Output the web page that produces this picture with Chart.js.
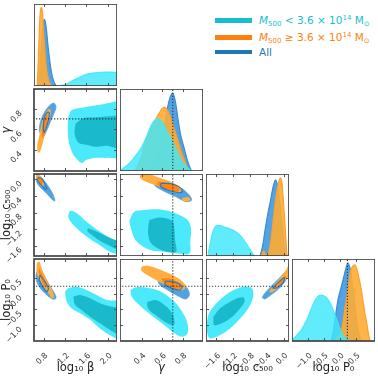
<!DOCTYPE html>
<html>
<head>
<meta charset="utf-8">
<script src="https://cdn.jsdelivr.net/npm/chart.js@4.4.1/dist/chart.umd.min.js"></script>
<style>
  body { margin: 0; background: #fff; }
  #wrap { position: relative; width: 378px; height: 376px; overflow: hidden; background: #fff; }
  #wrap canvas { position: absolute; }
  .lg { position: absolute; left: 215px; height: 12px; display: flex; align-items: center;
        font: 10.5px 'DejaVu Sans', sans-serif; white-space: nowrap; }
  .lg .sw { display: inline-block; width: 37px; margin-right: 7px; }
  .lg sub { font-size: 7px; vertical-align: -2px; line-height: 0; }
  .lg sup { font-size: 7px; vertical-align: 4px; line-height: 0; }
</style>
</head>
<body>
<div id="wrap"></div>
<script>
// parameters, axis ranges and ticks
const params = ['beta', 'gamma', 'c500', 'p0'];
const titles = ['log\u2081\u2080 \u03b2', '\u03b3', 'log\u2081\u2080 c\u2085\u2080\u2080', 'log\u2081\u2080 P\u2080'];
const ranges = { beta: [0.62, 2.17], gamma: [0.19, 1.0], c500: [-1.85, 0.13], p0: [-1.5, 1.1] };
const betaTicks = [0.8, 1.2, 1.6, 2.0];
const gammaTicks = [0.4, 0.6, 0.8];
const c500Ticks = [-1.6, -1.2, -0.8, -0.4, 0.0];
const p0Ticks = [-1.0, -0.5, 0.0, 0.5];
const tickSets = { beta: betaTicks, gamma: gammaTicks, c500: c500Ticks, p0: p0Ticks };
const truths = { gamma: 0.705, p0: 0.236 };

const seriesNames = [
  '<i>M</i><sub>500</sub> &lt; 3.6 \u00d7 10<sup>14</sup> M<sub>\u2299</sub>',
  '<i>M</i><sub>500</sub> \u2265 3.6 \u00d7 10<sup>14</sup> M<sub>\u2299</sub>',
  'All'
];
const seriesColors = ['#17becf', '#ff7f0e', '#1f77b4'];

// 1D marginals (low mass, high mass, all)
const betaLow = [[1.07,0],[1.15,0.01],[1.25,0.03],[1.35,0.07],[1.45,0.10],[1.55,0.13],[1.65,0.15],[1.75,0.16],[1.85,0.165],[1.95,0.17],[2.05,0.17],[2.2,0.165]];
const betaHigh = [[0.68,0],[0.70,0.3],[0.72,0.7],[0.74,0.92],[0.76,0.96],[0.78,0.88],[0.80,0.65],[0.83,0.38],[0.86,0.18],[0.90,0.06],[0.95,0]];
const betaAll = [[0.71,0],[0.74,0.3],[0.77,0.6],[0.80,0.8],[0.82,0.81],[0.85,0.7],[0.88,0.5],[0.92,0.28],[0.96,0.12],[1.0,0.04],[1.04,0]];

const gammaLow = [[0.19,0.01],[0.22,0.03],[0.26,0.07],[0.30,0.12],[0.35,0.2],[0.40,0.29],[0.45,0.42],[0.49,0.55],[0.53,0.62],[0.56,0.64],[0.60,0.6],[0.64,0.51],[0.68,0.41],[0.72,0.31],[0.76,0.2],[0.80,0.11],[0.84,0.05],[0.88,0.01],[0.90,0]];
const gammaHigh = [[0.33,0],[0.37,0.08],[0.40,0.18],[0.43,0.33],[0.48,0.47],[0.525,0.6],[0.57,0.7],[0.60,0.76],[0.625,0.78],[0.65,0.75],[0.67,0.70],[0.71,0.55],[0.75,0.39],[0.79,0.23],[0.82,0.13],[0.85,0.04],[0.87,0]];
const gammaAll = [[0.46,0],[0.50,0.05],[0.53,0.13],[0.56,0.22],[0.59,0.35],[0.62,0.52],[0.655,0.78],[0.68,0.9],[0.705,0.95],[0.73,0.85],[0.755,0.64],[0.78,0.45],[0.82,0.26],[0.85,0.12],[0.88,0.02],[0.89,0]];

const c500Low = [[-1.80,0.03],[-1.75,0.15],[-1.70,0.27],[-1.65,0.34],[-1.58,0.375],[-1.50,0.37],[-1.40,0.35],[-1.30,0.335],[-1.20,0.315],[-1.10,0.28],[-1.00,0.23],[-0.90,0.16],[-0.80,0.08],[-0.72,0.02],[-0.68,0]];
const c500High = [[-0.52,0],[-0.50,0.05],[-0.47,0.06],[-0.44,0.03],[-0.40,0.02],[-0.35,0.05],[-0.30,0.2],[-0.25,0.42],[-0.20,0.65],[-0.15,0.82],[-0.10,0.93],[-0.07,0.95],[-0.04,0.9],[-0.01,0.72],[0.02,0.5],[0.05,0.25],[0.08,0.03],[0.09,0]];
const c500All = [[-0.56,0],[-0.50,0.12],[-0.44,0.32],[-0.38,0.5],[-0.31,0.68],[-0.25,0.84],[-0.19,0.93],[-0.14,0.85],[-0.10,0.7],[-0.07,0.56],[-0.03,0.35],[0.01,0.15],[0.05,0.02],[0.06,0]];

const p0Low = [[-1.49,0.02],[-1.40,0.05],[-1.30,0.09],[-1.20,0.14],[-1.10,0.21],[-1.00,0.29],[-0.90,0.39],[-0.80,0.48],[-0.70,0.54],[-0.60,0.56],[-0.50,0.55],[-0.40,0.52],[-0.30,0.46],[-0.20,0.37],[-0.10,0.26],[0.00,0.15],[0.10,0.07],[0.20,0.03],[0.30,0.01],[0.36,0]];
const p0High = [[-0.12,0],[-0.06,0.06],[-0.02,0.05],[0.02,0.1],[0.08,0.2],[0.15,0.38],[0.22,0.55],[0.28,0.72],[0.34,0.86],[0.40,0.91],[0.47,0.93],[0.53,0.88],[0.59,0.78],[0.66,0.65],[0.72,0.5],[0.78,0.35],[0.84,0.22],[0.89,0.1],[0.93,0.02],[0.95,0]];
const p0All = [[-0.28,0],[-0.20,0.13],[-0.12,0.35],[-0.05,0.52],[0.05,0.67],[0.12,0.78],[0.20,0.9],[0.25,0.95],[0.31,0.9],[0.36,0.8],[0.42,0.6],[0.47,0.44],[0.52,0.28],[0.57,0.14],[0.62,0.05],[0.66,0]];

// 2D credible regions (outer = 95%, inner = 68%)
const bgLowOuter = [[1.26,0.72],[1.32,0.79],[1.45,0.81],[1.67,0.83],[1.91,0.85],[2.25,0.86],[2.25,0.34],[1.98,0.32],[1.79,0.32],[1.60,0.30],[1.51,0.27],[1.40,0.32],[1.32,0.39],[1.26,0.51],[1.25,0.64]];
const bgLowInner = [[1.40,0.66],[1.54,0.71],[1.79,0.72],[2.04,0.73],[2.25,0.73],[2.25,0.42],[1.98,0.44],[1.76,0.43],[1.60,0.45],[1.45,0.47],[1.385,0.54],[1.38,0.61]];
const bgAllOuter = [[0.745,0.54],[0.72,0.61],[0.763,0.71],[0.838,0.79],[0.92,0.84],[0.993,0.86],[1.03,0.82],[0.993,0.76],[0.92,0.67],[0.857,0.59],[0.794,0.53]];
const bgHighOuter = [[0.69,0.37],[0.68,0.44],[0.72,0.54],[0.763,0.66],[0.825,0.75],[0.888,0.80],[0.93,0.79],[0.92,0.72],[0.857,0.61],[0.794,0.49],[0.73,0.38]];
const bgHighInner = [[0.763,0.54],[0.782,0.67],[0.825,0.74],[0.87,0.75],[0.87,0.67],[0.825,0.57],[0.782,0.52]];
const bgAllInner = [[0.794,0.61],[0.813,0.72],[0.87,0.77],[0.906,0.76],[0.888,0.69],[0.844,0.61],[0.807,0.57]];

const bcLowOuter = [[1.28,-0.78],[1.32,-0.76],[1.42,-0.82],[1.60,-1.02],[1.85,-1.26],[2.10,-1.46],[2.25,-1.53],[2.25,-1.80],[2.04,-1.75],[1.85,-1.59],[1.60,-1.38],[1.42,-1.18],[1.305,-1.02],[1.26,-0.90]];
const bcLowInner = [[1.63,-1.18],[1.79,-1.26],[1.98,-1.38],[2.25,-1.55],[2.25,-1.72],[2.04,-1.61],[1.85,-1.48],[1.70,-1.34],[1.615,-1.24]];
const bcAllOuter = [[0.67,0.08],[0.72,0.08],[0.825,-0.055],[0.95,-0.30],[1.012,-0.51],[0.98,-0.51],[0.857,-0.34],[0.73,-0.18],[0.67,-0.055]];
const bcHighOuter = [[0.657,0.13],[0.72,0.114],[0.782,0.025],[0.813,-0.095],[0.782,-0.176],[0.72,-0.11],[0.67,-0.015]];
const bcHighInner = [[0.69,0.07],[0.75,0.03],[0.785,-0.07],[0.76,-0.12],[0.71,-0.06]];
const bcAllInner = [[0.70,0.05],[0.77,0.01],[0.82,-0.10],[0.86,-0.22],[0.83,-0.24],[0.76,-0.14],[0.69,-0.04]];

const bpLowOuter = [[1.20,0.064],[1.26,0.17],[1.42,0.22],[1.60,0.12],[1.79,-0.04],[1.98,-0.20],[2.25,-0.27],[2.25,-1.45],[2.04,-1.31],[1.85,-1.10],[1.67,-0.83],[1.48,-0.62],[1.32,-0.46],[1.23,-0.25]];
const bpLowInner = [[1.354,-0.094],[1.48,-0.042],[1.666,-0.147],[1.852,-0.306],[2.04,-0.41],[2.25,-0.48],[2.25,-1.30],[2.04,-1.15],[1.852,-0.94],[1.666,-0.73],[1.51,-0.52],[1.385,-0.34]];
const bpAllOuter = [[0.682,0.75],[0.763,0.70],[0.888,0.33],[1.012,-0.02],[1.031,-0.147],[0.969,-0.168],[0.825,0.011],[0.70,0.276],[0.657,0.54]];
const bpHighOuter = [[0.67,0.963],[0.72,1.015],[0.763,0.804],[0.857,0.434],[0.969,0.064],[0.993,-0.126],[0.95,-0.126],[0.825,0.17],[0.72,0.434],[0.67,0.698]];
const bpHighInner = [[0.72,0.804],[0.763,0.646],[0.844,0.328],[0.857,0.223],[0.807,0.254],[0.745,0.487],[0.707,0.698]];
const bpAllInner = [[0.732,0.593],[0.825,0.381],[0.888,0.17],[0.857,0.064],[0.782,0.223],[0.72,0.434]];

const gcLowOuter = [[0.281,-1.02],[0.297,-0.90],[0.33,-0.78],[0.427,-0.74],[0.558,-0.72],[0.688,-0.78],[0.769,-0.86],[0.85,-0.98],[0.883,-1.18],[0.876,-1.50],[0.867,-1.79],[0.753,-1.79],[0.623,-1.75],[0.493,-1.71],[0.395,-1.59],[0.33,-1.42],[0.297,-1.18]];
const gcLowInner = [[0.476,-0.98],[0.558,-0.924],[0.639,-0.941],[0.704,-1.02],[0.72,-1.18],[0.727,-1.46],[0.737,-1.75],[0.655,-1.75],[0.558,-1.665],[0.493,-1.544],[0.466,-1.343],[0.466,-1.142]];
const gcAllOuter = [[0.525,-0.015],[0.655,-0.055],[0.771,-0.192],[0.85,-0.337],[0.889,-0.498],[0.834,-0.538],[0.737,-0.417],[0.61,-0.272],[0.525,-0.136]];
const gcHighOuter = [[0.388,0.14],[0.46,0.14],[0.59,0.025],[0.704,-0.079],[0.771,-0.176],[0.788,-0.272],[0.737,-0.321],[0.655,-0.256],[0.558,-0.16],[0.444,-0.055],[0.388,0.025]];
const gcHighTail = [[0.802,-0.442],[0.857,-0.434],[0.877,-0.498],[0.834,-0.538],[0.795,-0.498]];
const gcHighInner = [[0.558,-0.055],[0.688,-0.095],[0.771,-0.216],[0.753,-0.297],[0.655,-0.24],[0.558,-0.136]];
const gcAllInner = [[0.59,-0.095],[0.704,-0.111],[0.795,-0.24],[0.788,-0.321],[0.688,-0.28],[0.59,-0.176]];

const gpLowOuter = [[0.291,0.117],[0.346,0.202],[0.46,0.191],[0.59,0.064],[0.704,-0.20],[0.785,-0.517],[0.844,-0.887],[0.85,-1.257],[0.802,-1.363],[0.737,-1.289],[0.623,-0.993],[0.493,-0.676],[0.379,-0.359],[0.304,-0.094]];
const gpLowInner = [[0.46,-0.253],[0.541,-0.20],[0.623,-0.359],[0.688,-0.57],[0.72,-0.834],[0.714,-0.993],[0.655,-0.94],[0.558,-0.729],[0.476,-0.517],[0.454,-0.359]];
const gpAllOuter = [[0.558,0.487],[0.655,0.508],[0.753,0.381],[0.834,0.223],[0.867,-0.02],[0.834,-0.168],[0.753,-0.063],[0.655,0.117],[0.574,0.296]];
const gpHighOuter = [[0.401,0.857],[0.46,0.889],[0.59,0.751],[0.72,0.561],[0.802,0.381],[0.834,0.223],[0.802,0.117],[0.737,0.138],[0.655,0.254],[0.558,0.402],[0.444,0.614],[0.395,0.751]];
const gpHighInner = [[0.59,0.487],[0.688,0.466],[0.771,0.296],[0.781,0.17],[0.704,0.191],[0.623,0.328]];
const gpAllInner = [[0.639,0.402],[0.737,0.36],[0.795,0.223],[0.771,0.117],[0.681,0.191],[0.629,0.296]];

const cpLowOuter = [[-1.834,-0.993],[-1.794,-0.676],[-1.673,-0.412],[-1.431,-0.094],[-1.19,0.117],[-0.948,0.223],[-0.787,0.202],[-0.723,0.064],[-0.747,-0.20],[-0.868,-0.517],[-1.069,-0.834],[-1.27,-1.098],[-1.512,-1.31],[-1.753,-1.416],[-1.818,-1.257]];
const cpLowInner = [[-1.673,-0.729],[-1.512,-0.464],[-1.27,-0.253],[-1.069,-0.126],[-0.948,-0.126],[-0.932,-0.253],[-1.069,-0.517],[-1.27,-0.782],[-1.472,-0.94],[-1.657,-0.993]];
const cpAllOuter = [[-0.506,-0.126],[-0.465,-0.02],[-0.304,0.223],[-0.103,0.487],[0.058,0.698],[0.114,0.646],[0.058,0.434],[-0.103,0.17],[-0.304,-0.042],[-0.449,-0.168]];
const cpHighOuter = [[-0.345,0.064],[-0.264,0.223],[-0.103,0.466],[0.058,0.751],[0.138,0.931],[0.155,0.646],[0.017,0.381],[-0.143,0.17],[-0.288,0.043]];
const cpHighInner = [[-0.184,0.276],[-0.063,0.434],[0.058,0.593],[0.034,0.466],[-0.087,0.296]];
const cpAllInner = [[-0.264,0.17],[-0.103,0.381],[0.017,0.508],[-0.007,0.36],[-0.159,0.191]];

const marginals = {
  beta: [betaAll, betaHigh, betaLow],
  gamma: [gammaAll, gammaHigh, gammaLow],
  c500: [c500All, c500High, c500Low],
  p0: [p0All, p0High, p0Low]
};
const regions = {
  '0-1': { low: [bgLowOuter, bgLowInner], all: bgAllOuter, high: [bgHighOuter], highIn: bgHighInner, allIn: bgAllInner },
  '0-2': { low: [bcLowOuter, bcLowInner], all: bcAllOuter, high: [bcHighOuter], highIn: bcHighInner, allIn: bcAllInner },
  '0-3': { low: [bpLowOuter, bpLowInner], all: bpAllOuter, high: [bpHighOuter], highIn: bpHighInner, allIn: bpAllInner },
  '1-2': { low: [gcLowOuter, gcLowInner], all: gcAllOuter, high: [gcHighOuter, gcHighTail], highIn: gcHighInner, allIn: gcAllInner },
  '1-3': { low: [gpLowOuter, gpLowInner], all: gpAllOuter, high: [gpHighOuter], highIn: gpHighInner, allIn: gpAllInner },
  '2-3': { low: [cpLowOuter, cpLowInner], all: cpAllOuter, high: [cpHighOuter], highIn: cpHighInner, allIn: cpAllInner }
};

// layout
const FONT = "'DejaVu Sans', sans-serif";
const colLeft = [34, 120, 206, 292];
const rowTop = [4, 89, 174, 259];
const PW = 83, PH = 82, LEFT_M = 34, BOTTOM_M = 35, PADV = 8;

const CYAN_OUT = '#4ae9fb', CYAN_IN = '#1bb9cc';
const BLUE_OUT = '#53a2e0', BLUE_LINE = '#2b78bf';
const ORANGE_OUT = '#ffad40', ORANGE_IN = '#ff850f';

const wrap = document.getElementById('wrap');
const pts = a => a.map(p => ({ x: p[0], y: p[1] }));
const fmt = v => v.toFixed(1).replace('-', '\u2212');

const framePlugin = {
  id: 'frame',
  afterDatasetsDraw(chart, args, opts) {
    const { ctx, chartArea: a, scales } = chart;
    const len = 3;
    ctx.save();
    ctx.strokeStyle = '#555';
    ctx.lineWidth = 1;
    ctx.beginPath();
    opts.xTicks.forEach(v => {
      const px = Math.round(scales.x.getPixelForValue(v)) + 0.5;
      ctx.moveTo(px, a.bottom); ctx.lineTo(px, a.bottom - len);
      ctx.moveTo(px, a.top); ctx.lineTo(px, a.top + len);
    });
    (opts.yTicks || []).forEach(v => {
      const py = Math.round(scales.y.getPixelForValue(v)) + 0.5;
      ctx.moveTo(a.left, py); ctx.lineTo(a.left + len, py);
      ctx.moveTo(a.right, py); ctx.lineTo(a.right - len, py);
    });
    ctx.stroke();
    ctx.strokeStyle = '#444';
    ctx.lineWidth = 1.7;
    ctx.strokeRect(a.left, a.top, a.width, a.height);
    ctx.restore();
  }
};

function shape(data, fill, line, width) {
  const closed = data.concat([data[0]]);
  return {
    data: pts(closed), backgroundColor: fill || 'transparent',
    borderColor: line || 'transparent', borderWidth: width || 0,
    fill: fill ? 'shape' : false, tension: 0.35, pointRadius: 0
  };
}

function curve(data, fill, line) {
  return {
    data: pts(data), backgroundColor: fill, borderColor: line, borderWidth: 1.2,
    fill: 'origin', cubicInterpolationMode: 'monotone', pointRadius: 0
  };
}

function truthLine(p1, p2) {
  return { data: [p1, p2], borderColor: '#333', borderWidth: 1.1, borderDash: [1.2, 1.8],
           pointRadius: 0, fill: false, tension: 0 };
}

function axis(param, show, horizontal, diagY) {
  const r = diagY ? [0, 1] : ranges[param];
  const ax = {
    type: 'linear', min: r[0], max: r[1], display: show,
    grid: { display: false }, border: { display: false },
    afterFit: s => {
      if (horizontal) s.height = show ? BOTTOM_M : 0; else s.width = show ? LEFT_M : 0;
      s.paddingLeft = 0; s.paddingRight = 0; s.paddingTop = 0; s.paddingBottom = 0;
    }
  };
  if (show) {
    const tv = tickSets[param];
    ax.afterBuildTicks = s => { s.ticks = tv.map(v => ({ value: v })); };
    ax.ticks = {
      autoSkip: false, minRotation: 45, maxRotation: 45, padding: horizontal ? 2 : 5,
      labelOffset: 3,
      font: { family: FONT, size: 8 }, color: '#333', callback: v => fmt(v)
    };
    ax.title = {
      display: true, text: titles[params.indexOf(param)], color: '#222',
      font: { family: FONT, size: 11.5, style: param === 'gamma' ? 'italic' : 'normal' },
      padding: horizontal ? { top: 0, bottom: 1 } : { top: 0, bottom: 3 }
    };
  }
  return ax;
}

function makePanel(r, c) {
  const xp = params[c], yp = params[r];
  const diag = r === c;
  const showX = r === 3, showY = c === 0 && !diag;
  // left-column canvases get a little room above/below so rotated labels are not cut
  const padTop = showY ? PADV : 0;
  const padBottom = showY && !showX ? PADV : 0;
  const w = PW + (showY ? LEFT_M : 0);
  const h = PH + (showX ? BOTTOM_M : 0) + padTop + padBottom;
  const cv = document.createElement('canvas');
  cv.width = w; cv.height = h;
  cv.style.left = (colLeft[c] - (showY ? LEFT_M : 0)) + 'px';
  cv.style.top = (rowTop[r] - padTop) + 'px';
  cv.style.width = w + 'px'; cv.style.height = h + 'px';
  wrap.appendChild(cv);

  // listed bottom to top
  let sets = [];
  if (diag) {
    const m = marginals[xp];
    sets.push(curve(m[0], 'rgba(72,158,226,0.95)', '#3a8ad4'));
    sets.push(curve(m[1], 'rgba(255,172,52,0.9)', '#ff9f2a'));
    sets.push(curve(m[2], 'rgba(62,232,252,0.82)', 'rgba(62,232,252,0.9)'));
    if (truths[xp] !== undefined) sets.push(truthLine({ x: truths[xp], y: -1 }, { x: truths[xp], y: 2 }));
  } else {
    const g = regions[c + '-' + r];
    sets.push(shape(g.low[0], CYAN_OUT));
    sets.push(shape(g.low[1], CYAN_IN));
    sets.push(shape(g.all, BLUE_OUT, BLUE_OUT, 0.8));
    g.high.forEach(s => sets.push(shape(s, ORANGE_OUT)));
    sets.push(shape(g.highIn, ORANGE_IN));
    sets.push(shape(g.allIn, null, BLUE_LINE, 1.2));
    if (truths[xp] !== undefined) sets.push(truthLine({ x: truths[xp], y: -5 }, { x: truths[xp], y: 5 }));
    if (truths[yp] !== undefined) sets.push(truthLine({ x: -5, y: truths[yp] }, { x: 5, y: truths[yp] }));
  }
  sets = sets.reverse();

  new Chart(cv, {
    type: 'line',
    data: { datasets: sets },
    options: {
      responsive: false, animation: false, events: [],
      layout: { padding: { top: padTop, bottom: padBottom, left: 0, right: 0 }, autoPadding: false },
      plugins: {
        legend: { display: false }, tooltip: { enabled: false },
        frame: { xTicks: tickSets[xp], yTicks: diag ? null : tickSets[yp] }
      },
      scales: {
        x: axis(xp, showX, true, false),
        y: axis(yp, showY, false, diag)
      }
    },
    plugins: [framePlugin]
  });
}

for (let r = 0; r < 4; r++) {
  for (let c = 0; c <= r; c++) makePanel(r, c);
}

// legend
const legendTops = [14, 31, 46];
seriesNames.forEach((name, i) => {
  const row = document.createElement('div');
  row.className = 'lg';
  row.style.top = legendTops[i] + 'px';
  row.style.color = seriesColors[i];
  row.innerHTML = '<span class="sw" style="height:' + (i < 2 ? 5 : 4) + 'px;background:' +
    seriesColors[i] + '"></span><span>' + name + '</span>';
  wrap.appendChild(row);
});
</script>
</body>
</html>
